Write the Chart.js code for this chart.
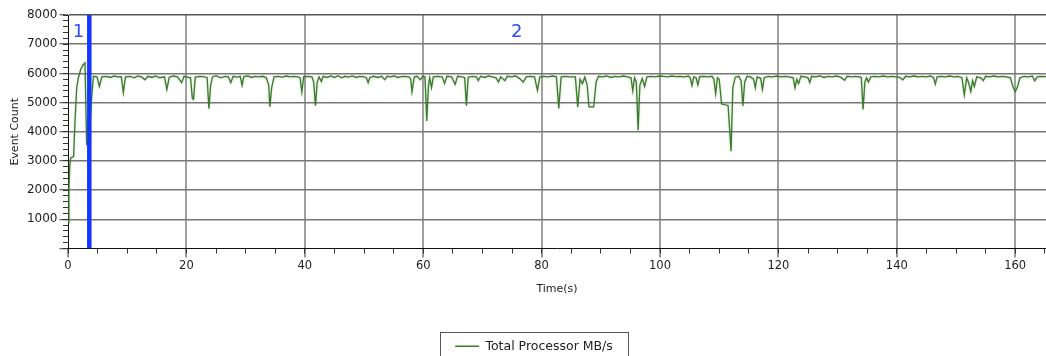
<!DOCTYPE html>
<html>
<head>
<meta charset="utf-8">
<title>Total Processor MB/s</title>
<script src="https://cdn.jsdelivr.net/npm/chart.js@4.4.1/dist/chart.umd.min.js"></script>
<style>
  html, body { margin: 0; padding: 0; background: #fff; }
  #wrap { width: 1046px; height: 356px; position: relative; }
</style>
</head>
<body>
<div id="wrap"><canvas id="chart-throughput"></canvas></div>
<script>
// Event count over time (s)
const times = [
  0, 0.15, 0.3, 0.45, 0.95, 1.18, 1.47, 1.75, 2.15, 2.5,
  2.87, 3.15, 3.6, 4.0, 4.3, 4.9, 5.3, 5.7, 6.5, 7.2,
  7.8, 8.4, 9.0, 9.35, 9.7, 10.5, 11.2, 11.8, 12.5, 13.0,
  13.5, 14.2, 14.8, 15.5, 16.3, 16.7, 17.1, 17.8, 18.5, 19.2,
  19.6, 20.7, 21.0, 21.2, 21.5, 22.3, 23.0, 23.5, 23.8, 24.1,
  24.4, 25.0, 25.8, 26.5, 27.1, 27.5, 27.9, 28.6, 29.1, 29.4,
  29.7, 30.4, 31.0, 31.6, 32.3, 32.9, 33.5, 33.9, 34.1, 34.4,
  34.8, 35.5, 36.2, 36.9, 37.5, 38.2, 38.8, 39.2, 39.5, 39.8,
  40.5, 41.2, 41.5, 41.8, 42.1, 42.4, 42.8, 43.1, 43.8, 44.4,
  45.0, 45.6, 46.2, 46.8, 47.4, 48.0, 48.7, 49.3, 50.0, 50.4,
  50.7, 51.0, 51.6, 52.3, 53.0, 53.5, 53.9, 54.5, 55.1, 55.7,
  56.3, 56.9, 57.6, 57.9, 58.1, 58.5, 59.0, 59.5, 59.9, 60.3,
  60.6, 60.9, 61.1, 61.4, 61.7, 62.4, 63.2, 63.6, 64.0, 64.8,
  65.4, 65.8, 66.6, 67.0, 67.3, 67.6, 68.3, 69.0, 69.3, 69.7,
  70.4, 71.0, 71.7, 72.3, 72.7, 73.1, 73.8, 74.2, 74.9, 75.6,
  76.3, 76.9, 77.4, 78.1, 78.8, 79.3, 79.7, 80.4, 81.1, 81.8,
  82.5, 82.9, 83.3, 84.0, 84.7, 85.7, 86.1, 86.5, 86.9, 87.3,
  87.7, 88.0, 88.8, 89.2, 89.6, 90.3, 91.0, 91.7, 92.4, 93.1,
  93.8, 94.5, 95.1, 95.4, 95.7, 96.0, 96.3, 96.6, 97.0, 97.4,
  97.8, 98.5, 99.2, 99.9, 100.6, 101.3, 102.0, 102.7, 103.4, 104.1,
  104.8, 105.1, 105.4, 105.7, 106.1, 106.4, 106.7, 107.4, 108.1, 108.8,
  109.1, 109.4, 109.7, 110.0, 110.4, 111.5, 112.0, 112.3, 112.7, 113.3,
  113.7, 114.0, 114.3, 114.7, 115.3, 115.8, 116.1, 116.4, 117.0, 117.3,
  117.6, 118.3, 119.0, 119.7, 120.4, 121.1, 121.8, 122.5, 122.8, 123.1,
  123.4, 123.8, 124.5, 125.0, 125.3, 125.6, 126.3, 127.0, 127.7, 128.4,
  129.1, 129.8, 130.5, 131.2, 131.6, 132.3, 133.0, 133.7, 134.0, 134.3,
  134.6, 134.9, 135.2, 135.6, 136.3, 137.0, 137.7, 138.4, 139.1, 139.8,
  140.5, 141.0, 141.5, 142.2, 142.9, 143.6, 144.3, 145.0, 145.7, 146.2,
  146.5, 146.8, 147.5, 148.2, 148.9, 149.6, 150.3, 151.0, 151.4, 151.8,
  152.1, 152.5, 152.8, 153.1, 153.5, 154.2, 154.6, 155.0, 155.7, 156.4,
  157.1, 157.8, 158.5, 159.2, 159.6, 160.0, 160.4, 160.8, 161.5, 162.2,
  162.9, 163.3, 163.7, 164.4, 165.2
];
const counts = [
  900, 2000, 2850, 3100, 3150, 4350, 5500, 5850, 6130, 6280,
  6360, 3600, 3800, 5200, 5900, 5880, 5550, 5880, 5900, 5860,
  5910, 5880, 5890, 5340, 5880, 5900, 5850, 5910, 5870, 5780,
  5900, 5860, 5910, 5850, 5880, 5450, 5870, 5910, 5880, 5680,
  5900, 5850, 5150, 5110, 5870, 5900, 5880, 5860, 4790, 5600,
  5880, 5920, 5850, 5900, 5880, 5680, 5900, 5870, 5900, 5590,
  5890, 5910, 5860, 5900, 5880, 5900, 5850, 5600, 4860, 5500,
  5880, 5900, 5870, 5910, 5880, 5900, 5880, 5850, 5360, 5880,
  5900, 5880, 5700, 4890, 5700, 5880, 5720, 5900, 5860, 5910,
  5860, 5920, 5850, 5900, 5870, 5910, 5860, 5900, 5880, 5850,
  5680, 5860, 5900, 5860, 5900, 5780, 5900, 5880, 5910, 5860,
  5890, 5900, 5880, 5800, 5370, 5880, 5900, 5780, 5900, 5880,
  4370, 5600, 5850, 5510, 5880, 5900, 5880, 5650, 5900, 5880,
  5620, 5900, 5880, 5850, 4890, 5870, 5900, 5880, 5750, 5900,
  5860, 5910, 5880, 5850, 5700, 5880, 5750, 5900, 5880, 5910,
  5820, 5700, 5880, 5900, 5880, 5420, 5880, 5900, 5880, 5910,
  5880, 4800, 5880, 5900, 5880, 5880, 4850, 5800, 5650, 5870,
  5600, 4850, 4850, 5700, 5900, 5880, 5910, 5860, 5900, 5880,
  5910, 5880, 5850, 5400, 5850, 5700, 4050, 5600, 5820, 5550,
  5880, 5900, 5880, 5910, 5900, 5880, 5910, 5890, 5900, 5880,
  5910, 5850, 5580, 5880, 5850, 5600, 5890, 5900, 5880, 5900,
  5800, 5300, 5850, 5800, 4950, 4900, 3330, 5500, 5870, 5900,
  5750, 4880, 5700, 5900, 5880, 5800, 5500, 5880, 5830, 5450,
  5850, 5900, 5880, 5910, 5880, 5900, 5880, 5850, 5500, 5800,
  5650, 5900, 5880, 5850, 5680, 5900, 5880, 5910, 5860, 5900,
  5880, 5910, 5870, 5760, 5900, 5880, 5900, 5880, 5860, 4760,
  5700, 5850, 5700, 5880, 5900, 5880, 5910, 5880, 5900, 5880,
  5860, 5780, 5900, 5880, 5910, 5880, 5900, 5880, 5910, 5850,
  5630, 5880, 5900, 5880, 5910, 5880, 5900, 5850, 5260, 5850,
  5700, 5380, 5750, 5550, 5880, 5850, 5750, 5900, 5880, 5910,
  5880, 5900, 5880, 5850, 5550, 5370, 5550, 5850, 5900, 5880,
  5910, 5740, 5880, 5900, 5890
];

// phase boundary (vertical blue line) and phase numbers
const markerTime = 3.6;
const markerSpan = [0, 8000];
const phaseLabels = ["1", "2"];
const phaseLabelTimes = [1.75, 75.8];
const phaseLabelLevel = 7400;

const FONT = "'DejaVu Sans', sans-serif";
Chart.defaults.font.family = FONT;

// soft halo under the green trace
const traceHalo = {
  id: "traceHalo",
  beforeDatasetDraw(chart, args) {
    if (args.index !== 0) return;
    const ctx = chart.ctx;
    ctx.save();
    ctx.shadowColor = "rgba(70, 140, 50, 0.35)";
    ctx.shadowBlur = 2;
  },
  afterDatasetDraw(chart, args) {
    if (args.index !== 0) return;
    chart.ctx.restore();
  }
};

// "1" / "2" phase numbers
const phaseNumbers = {
  id: "phaseNumbers",
  afterDatasetsDraw(chart) {
    const { ctx, scales: { x, y } } = chart;
    ctx.save();
    ctx.fillStyle = "#2f4cff";
    ctx.font = "18px " + FONT;
    ctx.textAlign = "center";
    ctx.textBaseline = "middle";
    phaseLabels.forEach((txt, i) => {
      ctx.fillText(txt, x.getPixelForValue(phaseLabelTimes[i]), y.getPixelForValue(phaseLabelLevel));
    });
    ctx.restore();
  }
};

// legend sits a bit right of centre and has a frame around it
const legendFrame = {
  id: "legendFrame",
  afterLayout(chart) {
    chart.legend.left += 22;
  },
  afterDraw(chart) {
    const lg = chart.legend;
    if (!lg || !lg.legendHitBoxes.length) return;
    const w = lg.legendHitBoxes[0].width;
    const mid = (lg.left + lg.right) / 2;
    const pad = lg.options.labels.padding;
    const top = lg.top + pad + 6 - 14;
    const half = w / 2 + 15;
    const ctx = chart.ctx;
    ctx.save();
    ctx.strokeStyle = "#555";
    ctx.lineWidth = 1;
    ctx.strokeRect(Math.round(mid - half) + 0.5, Math.round(top) + 0.5, Math.round(2 * half), 40);
    ctx.restore();
  }
};

const ctx = document.getElementById("chart-throughput").getContext("2d");

new Chart(ctx, {
  type: "line",
  data: {
    datasets: [
      {
        label: "Total Processor MB/s",
        data: times.map((t, i) => ({ x: t, y: counts[i] })),
        borderColor: "#3a7a2b",
        backgroundColor: "#3a7a2b",
        borderWidth: 1.3,
        pointRadius: 0,
        tension: 0,
        xAxisID: "x",
        yAxisID: "y",
        order: 1
      },
      {
        label: "phase",
        data: markerSpan.map(v => ({ x: markerTime, y: v })),
        borderColor: "#1435ff",
        borderWidth: 4.5,
        borderCapStyle: "butt",
        pointRadius: 0,
        xAxisID: "x",
        yAxisID: "y",
        order: 0
      }
    ]
  },
  options: {
    responsive: true,
    maintainAspectRatio: false,
    animation: false,
    events: [],
    layout: { padding: { top: 15, left: 0, right: 0, bottom: -6.5 } },
    plugins: {
      tooltip: { enabled: false },
      legend: {
        position: "bottom",
        labels: {
          filter: item => item.datasetIndex === 0,
          usePointStyle: true,
          pointStyle: "line",
          pointStyleWidth: 24,
          color: "#222",
          font: { size: 12.5 },
          padding: 10
        }
      }
    },
    scales: {
      x: {
        type: "linear",
        position: "bottom",
        min: 0,
        max: 165.2,
        weight: 1,
        ticks: {
          stepSize: 20,
          includeBounds: false,
          autoSkip: false,
          maxRotation: 0,
          padding: 2,
          color: "#222",
          font: { size: 11.5 },
          callback: v => String(v)
        },
        grid: {
          color: c => (c.tick && c.tick.value === 0 ? "rgba(0,0,0,0)" : "#a0a0a0"),
          lineWidth: 2,
          tickColor: "#333",
          tickWidth: 1,
          tickLength: 9
        },
        border: { color: "#111", width: 1 },
        title: {
          display: true,
          text: "Time(s)",
          color: "#222",
          font: { size: 11 },
          padding: { top: 0, bottom: 34 }
        },
        afterFit: s => { s.height = 81.5; }
      },
      xMinor: {
        type: "linear",
        position: "bottom",
        min: 0,
        max: 165.2,
        weight: 0,
        ticks: { stepSize: 5, includeBounds: false, autoSkip: false, display: false },
        grid: { drawOnChartArea: false, tickLength: 5, tickColor: "#333", tickWidth: 1 },
        border: { display: false },
        afterFit: s => { s.height = 0; }
      },
      y: {
        type: "linear",
        position: "left",
        min: 0,
        max: 8000,
        weight: 1,
        ticks: {
          stepSize: 1000,
          autoSkip: false,
          padding: 2,
          color: "#222",
          font: { size: 12 },
          callback: v => (v === 0 ? "" : String(v))
        },
        grid: {
          color: c => {
            if (!c.tick) return "#777";
            if (c.tick.value === 0) return "rgba(0,0,0,0)";
            return c.tick.value === 8000 ? "#555" : "#777";
          },
          lineWidth: 1.5,
          tickColor: "#333",
          tickWidth: 1,
          tickLength: 8.5
        },
        border: { color: "#111", width: 1 },
        title: {
          display: true,
          text: "Event Count",
          color: "#222",
          font: { size: 11 },
          padding: { top: 8.4, bottom: 0 }
        },
        afterFit: s => { s.width = 68; }
      },
      yMinor: {
        type: "linear",
        position: "left",
        min: 0,
        max: 8000,
        weight: 0,
        ticks: { stepSize: 200, autoSkip: false, display: false },
        grid: { drawOnChartArea: false, tickLength: 5, tickColor: "#333", tickWidth: 1 },
        border: { display: false },
        afterFit: s => { s.width = 0; }
      }
    }
  },
  plugins: [traceHalo, phaseNumbers, legendFrame]
});
</script>
</body>
</html>
